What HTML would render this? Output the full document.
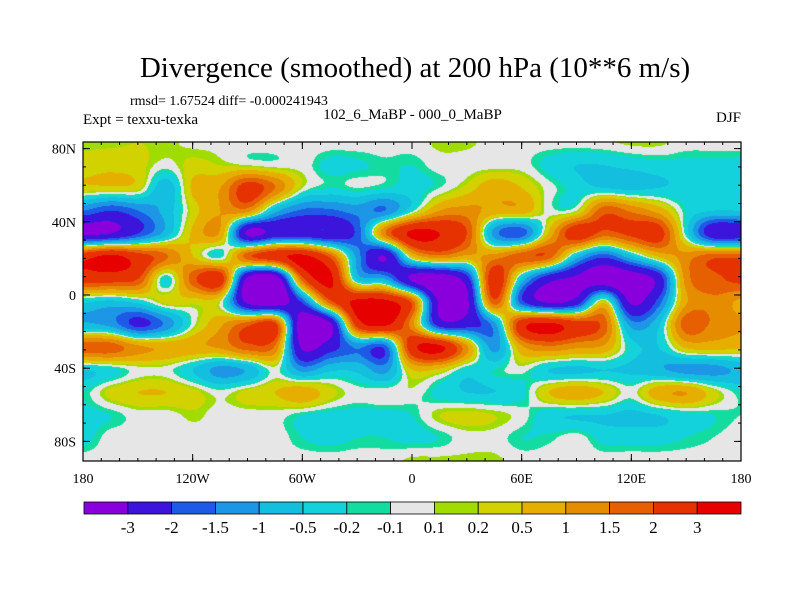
<!DOCTYPE html>
<html><head><meta charset="utf-8"><style>
body{margin:0;background:#fff;}
#wrap{position:relative;width:800px;height:600px;overflow:hidden;font-family:"Liberation Serif",serif;color:#000;}
.t{position:absolute;white-space:nowrap;}
</style></head><body>
<div id="wrap">
<div class="t" style="left:0;width:830px;text-align:center;top:52px;font-size:29px;">Divergence (smoothed) at 200 hPa (10**6 m/s)</div>
<div class="t" style="left:130px;top:94px;font-size:14px;">rmsd= 1.67524 diff= -0.000241943</div>
<div class="t" style="left:83px;top:112px;font-size:15px;">Expt = texxu-texka</div>
<div class="t" style="left:300px;width:225px;text-align:center;top:107px;font-size:15px;">102_6_MaBP - 000_0_MaBP</div>
<div class="t" style="left:700px;width:41px;text-align:right;top:110px;font-size:15px;">DJF</div>
<canvas id="map" width="658" height="319" style="position:absolute;left:83px;top:142px;"></canvas>
<svg id="ov" width="800" height="600" style="position:absolute;left:0;top:0;"></svg>
</div>
<script>
const levels=[-3,-2,-1.5,-1,-0.5,-0.2,-0.1,0.1,0.2,0.5,1,1.5,2,3];
const colors=["#8a00dc","#3c14dc","#1e5ae6","#1e96e6","#14bede","#14d2dc","#14dca0","#e6e6e6","#a0dc00","#d2d200","#e6af00","#e68c00","#e65f00","#e63200","#e60000"];
const lonTicks=["180","120W","60W","0","60E","120E","180"];
const latTicks=["80N","40N","0","40S","80S"];
const latVals=[80,40,0,-40,-80];
// grid nodes: 25 longitudes (180W..180E step 15), 15 rows top->bottom
const r0=[0.15,0.15,0.2,0.15,0.05,0.05,0,0,0,0,0,0,0,0.15,0.15,0,0,0,0,0.05,0.15,0.15,0,0,0];
const r1=[0.3,0.4,0.3,0,0.3,0.2,0.1,0,0,-0.3,-0.25,-0.15,-0.2,0,0,0,0,-0.3,-0.5,-0.5,-0.4,-0.3,-0.3,-0.3,-0.3];
const r2=[0.4,0.4,0.3,-0.8,0.6,1,2.4,1.5,0.1,-0.2,-0.1,-0.2,-0.3,-0.1,0.3,0.8,0.5,0,-0.3,-0.5,-0.6,-0.5,-0.4,-0.3,-0.2];
const r3=[-1.5,-2,-1.5,-0.8,0.3,1,1.2,-0.8,-1.6,-1.6,-1.3,-1.5,-0.2,1,1.2,0.8,0.8,0,0.1,1.8,1.4,0.8,-0.2,-0.5,-0.5];
const r4=[-3.2,-3,-2,-0.8,0.6,0.9,-3.2,-2.6,-2.6,-2.8,-1.8,1.4,3.2,3,2,-1.2,-1.8,0.6,2.6,1.8,2.2,2.4,-0.2,-2.6,-2.6];
const r5=[2.6,3.2,2.4,1.6,0.5,-0.2,1.8,2.6,3.2,1.8,-1.2,-3,0.5,1.4,0.9,1.2,1.8,1.8,-0.6,-1.8,-0.6,0.6,1.2,1.8,1.8];
const r6=[2.4,2.4,2,-0.3,1.8,2.5,-3.3,-3.8,1.8,3.2,-0.6,-1,-3.2,-3.8,-2.4,2.6,-0.6,-2.6,-3.2,-3.8,-3.8,-2.6,1.2,1.8,2.2];
const r7=[-0.4,-0.6,-0.3,0.3,0.3,0.1,-3.3,-3.8,-1.8,1.8,3.2,3.2,1.8,-3.2,-3.2,1.8,-1.8,-3.2,-2.6,0.3,-3.2,-1.8,0.9,1.4,0.9];
const r8=[-0.9,-1.2,-2.2,-1.4,0,0.9,1.8,2.2,-3.8,-3.2,2.4,3.2,1.2,-2.4,-2.4,-1.2,2.6,3.2,2.4,1.8,-1.2,-0.6,1.8,1.4,1.1];
const r9=[1.8,1.8,1.1,0.9,0.9,1.1,1.8,1.4,-3.2,-2.4,-1.4,-1.8,2.6,3.2,1.1,-1.2,0.9,1.4,1.1,0.9,-0.3,-0.5,0.6,0.7,0.6];
const r10=[-0.5,-0.3,0,0,-0.5,-1.2,-0.9,0,-1.2,-0.6,-0.6,-1.2,0.5,0.4,-0.3,-0.2,0,-0.5,-0.6,-0.5,-0.6,-0.9,-1.2,-1.2,-0.9];
const r11=[-0.2,0.3,0.5,0.5,0.3,0,0.3,0.5,0.8,0.3,0,0.05,0.05,-0.3,-0.5,-0.5,-0.3,0.5,0.8,0.5,0,0.8,1,0.3,-0.2];
const r12=[-0.3,-0.2,0,0,0.15,0,0,0,-0.2,-0.3,-0.3,-0.3,-0.2,0.2,0.3,0.2,0,-0.4,-0.5,-0.5,-0.6,-0.5,-0.3,-0.2,-0.1];
const r13=[-0.3,0,0,0,0,0,0,0,-0.2,-0.3,-0.2,-0.2,-0.3,-0.2,0,0,-0.2,-0.15,0,-0.3,-0.3,-0.3,-0.2,-0.1,0];
const r14=[0,0,0,0,0,0,0,0,0,0,0,0,0.15,0.15,0.15,0.15,0,0,0,0,0,0,0,0,0];
const grid=[r0,r1,r2,r3,r4,r5,r6,r7,r8,r9,r10,r11,r12,r13,r14];

const PX=83,PY=142,PW=658,PH=319;
function xOfLon(l){return PX+(l+180)/360*PW;}
function yOfLat(l){return 295-l*1.83;}
function hex(c){return [parseInt(c.substr(1,2),16),parseInt(c.substr(3,2),16),parseInt(c.substr(5,2),16)];}
const rgb=colors.map(hex);
function idxOf(v){let i=0;while(i<levels.length&&v>=levels[i])i++;return i;}
function cr(p0,p1,p2,p3,t){return 0.5*((2*p1)+(-p0+p2)*t+(2*p0-5*p1+4*p2-p3)*t*t+(-p0+3*p1-3*p2+p3)*t*t*t);}
(function(){
 const cv=document.getElementById('map');const ctx=cv.getContext('2d');
 const img=ctx.createImageData(PW,PH);
 const nc=grid[0].length-1,nr=grid.length-1;
 function g(i,j){i=Math.max(0,Math.min(nr,i));j=Math.max(0,Math.min(nc,j));return grid[i][j];}
 for(let y=0;y<PH;y++){
  const gy=y/(PH-1)*nr;let i=Math.min(Math.floor(gy),nr-1);const fy=gy-i;
  for(let x=0;x<PW;x++){
   const gx=x/(PW-1)*nc;let j=Math.min(Math.floor(gx),nc-1);const fx=gx-j;
   const rows=[];
   for(let k=-1;k<=2;k++){rows.push(cr(g(i+k,j-1),g(i+k,j),g(i+k,j+1),g(i+k,j+2),fx));}
   const v=cr(rows[0],rows[1],rows[2],rows[3],fy);
   const c=rgb[idxOf(v)];const k=(y*PW+x)*4;
   img.data[k]=c[0];img.data[k+1]=c[1];img.data[k+2]=c[2];img.data[k+3]=255;
  }
 }
 ctx.putImageData(img,0,0);
})();
(function(){
 const ns='http://www.w3.org/2000/svg';const svg=document.getElementById('ov');
 function mk(t,a){const e=document.createElementNS(ns,t);for(const k in a)e.setAttribute(k,a[k]);svg.appendChild(e);return e;}
 const fr=mk('rect',{x:PX,y:PY,width:PW,height:PH,fill:'none',stroke:'#000','stroke-width':1.2});
 
 
 lonTicks.forEach((t,i)=>{
  const x=PX+i*PW/6;
  const tk=mk('line',{x1:x,y1:PY+PH,x2:x,y2:PY+PH-7,stroke:'#000'});
  
  
  mk('line',{x1:x,y1:PY,x2:x,y2:PY+7,stroke:'#000'});
  const tx=mk('text',{x:x,y:483,'text-anchor':'middle','font-size':14,'font-family':'Liberation Serif, serif'});
  tx.textContent=t;
  
  
 });
 for(let m=-180;m<=180;m+=10){const x=xOfLon(m);mk('line',{x1:x,y1:PY+PH,x2:x,y2:PY+PH-3,stroke:'#000'});mk('line',{x1:x,y1:PY,x2:x,y2:PY+3,stroke:'#000'});}
 latTicks.forEach((t,i)=>{
  const y=yOfLat(latVals[i]);
  const tk=mk('line',{x1:PX,y1:y,x2:PX+7,y2:y,stroke:'#000'});
  
  
  mk('line',{x1:PX+PW,y1:y,x2:PX+PW-7,y2:y,stroke:'#000'});
  const tx=mk('text',{x:76,y:y+5,'text-anchor':'end','font-size':14,'font-family':'Liberation Serif, serif'});
  tx.textContent=t;
  
  
 });
 for(let m=-80;m<=80;m+=10){const y=yOfLat(m);mk('line',{x1:PX,y1:y,x2:PX+3,y2:y,stroke:'#000'});mk('line',{x1:PX+PW,y1:y,x2:PX+PW-3,y2:y,stroke:'#000'});}
 const bx=84,bw=657/colors.length,by=502,bh=12;
 colors.forEach((c,i)=>{
  const r=mk('rect',{x:bx+i*bw,y:by,width:bw,height:bh,fill:c,stroke:'#000','stroke-width':0.8});
  
  
 });
 levels.forEach((l,i)=>{
  const tx=mk('text',{x:bx+(i+1)*bw,y:533,'text-anchor':'middle','font-size':17,'font-family':'Liberation Serif, serif'});
  tx.textContent=String(l);
  
  
 });
})();
</script>
</body></html>
